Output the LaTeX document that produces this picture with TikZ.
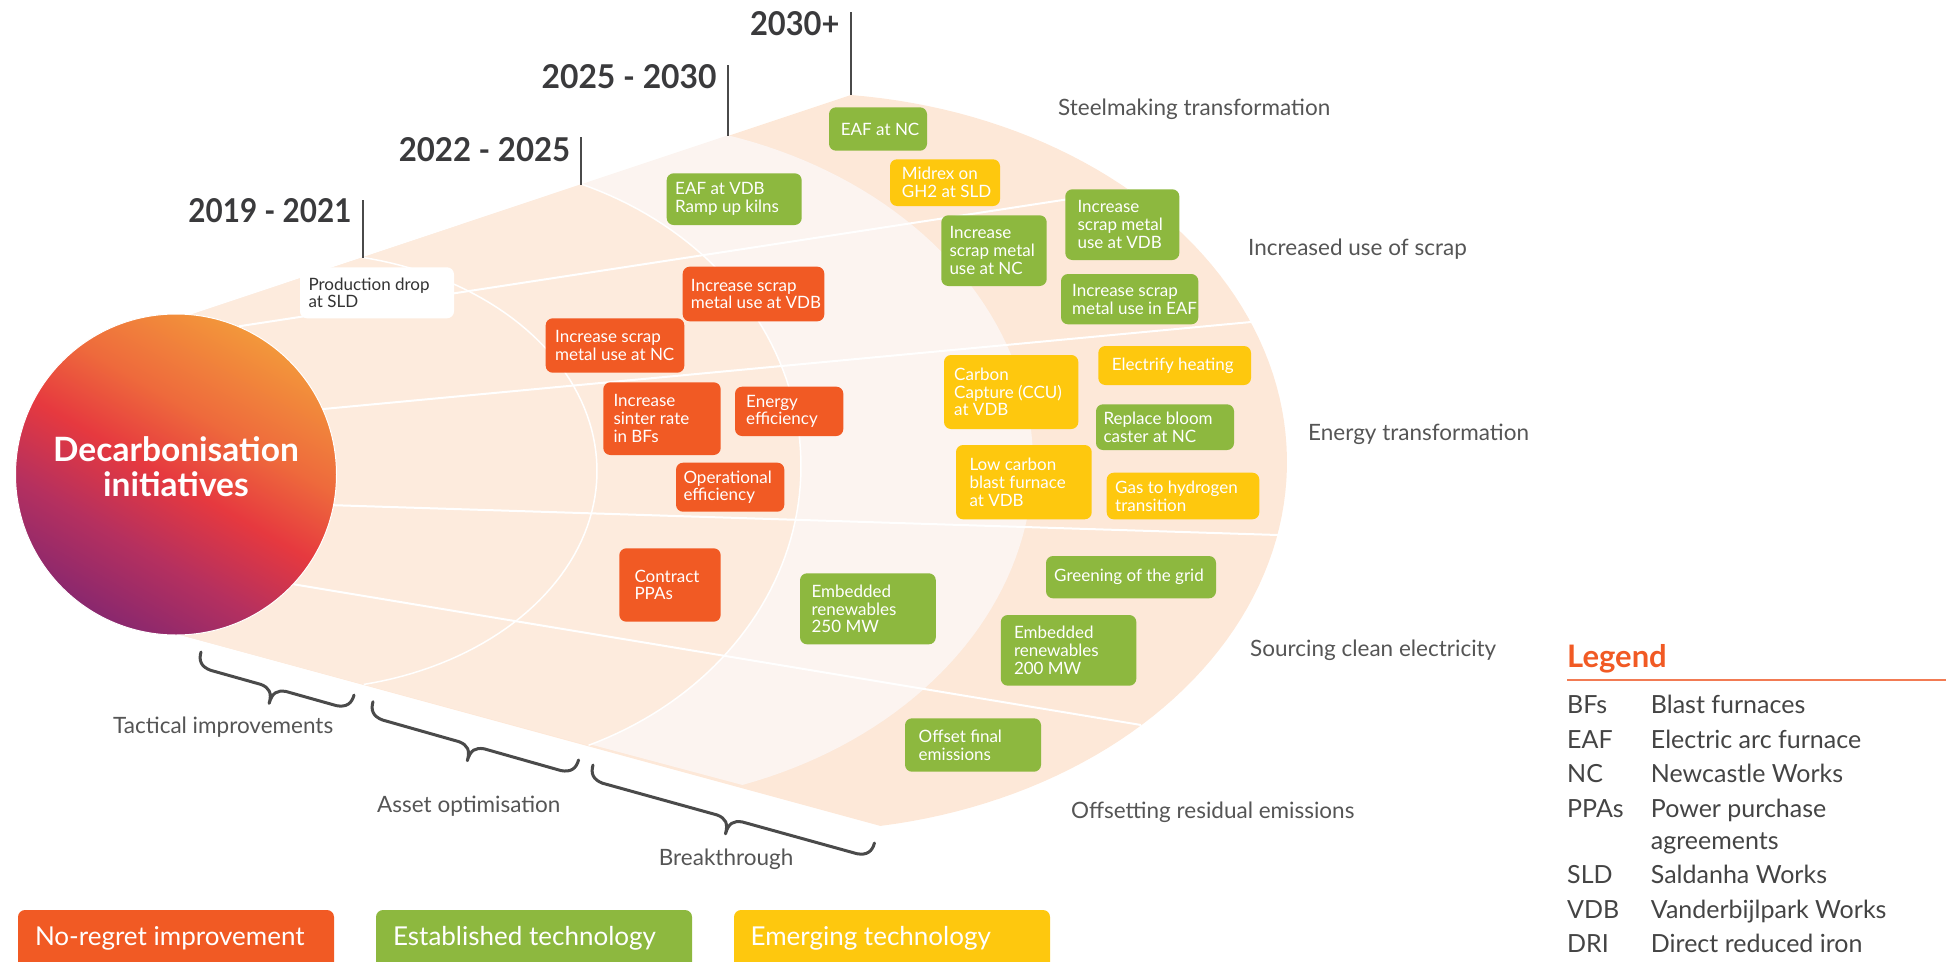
\documentclass[tikz,border=0pt]{standalone}
\usepackage{fontspec}
\setmainfont{Lato}
\usetikzlibrary{calc}
\definecolor{cOrange}{HTML}{F15A24}
\definecolor{cGreen}{HTML}{8DB83F}
\definecolor{cYellow}{HTML}{FEC80E}
\definecolor{cPeach}{HTML}{FDE8D8}
\definecolor{cPeachIn}{HTML}{FDEBDD}
\definecolor{cLight}{HTML}{FCF4F0}
\definecolor{cYear}{HTML}{3A3A3C}
\definecolor{cLab}{HTML}{555555}
\definecolor{cLeg}{HTML}{444444}
\definecolor{cTick}{HTML}{4A4A4A}
\definecolor{cLegLine}{HTML}{F27B53}
\definecolor{cPur}{HTML}{86276F}
\definecolor{cMag}{HTML}{B5305F}
\definecolor{cRed}{HTML}{E6393F}
\definecolor{cOrR}{HTML}{EE6A3C}
\definecolor{cOra}{HTML}{F39A3B}
\definecolor{cBoxText}{HTML}{333333}
\pgfdeclarehorizontalshading{decarb}{100bp}{color(0bp)=(cPur); color(24bp)=(cPur); color(37bp)=(cMag); color(49bp)=(cRed); color(60bp)=(cOrR); color(76bp)=(cOra); color(100bp)=(cOra)}
\newcommand\boxfont{\fontsize{17}{17.8}\selectfont}
\newcommand\regfont{\fontsize{22.5}{26}\selectfont}
\newcommand\legfont{\fontsize{25}{30}\selectfont}
\newcommand\lgbfont{\fontsize{26}{30}\selectfont}
\newcommand\decfont{\fontsize{33.5}{35}\selectfont\bfseries}
\newcommand\ibx[9]{%
  \node[bxs, fill=#7, minimum width=#4pt, minimum height=#5pt] (#1) at (#2,#3) {};
  \node[bxt, text=#8, anchor=west] (#1t) at ([xshift=#6pt]#1.west) {#9};}
\newcommand\mybrace[4]{%
  \begin{scope}[shift={(#1,#2)}, rotate=-#3]
  \draw[brc] (0,0) .. controls (0,9) and (4,14) .. (14,15) -- ({#4/2-13},15) .. controls ({#4/2-4},16) and ({#4/2},20) .. ({#4/2},31) .. controls ({#4/2},20) and ({#4/2+4},16) .. ({#4/2+13},15) -- ({#4-14},15) .. controls ({#4-4},14) and (#4,9) .. (#4,0);
  \end{scope}}
\begin{document}
\begin{tikzpicture}[x=1pt,y=-1pt,
  bxs/.style={rounded corners=7pt, anchor=north west, inner sep=0pt, outer sep=0pt, draw=none},
  bxt/.style={align=left, inner sep=0pt, font=\boxfont},
  arcline/.style={draw=white, line width=1.5pt},
  spoke/.style={draw=white, line width=2pt},
  tick/.style={draw=cTick, line width=2pt},
  yr/.style={inner sep=0pt, text=cYear},
  reg/.style={anchor=base west, inner sep=0pt, text=cLab, font=\regfont},
  leg/.style={anchor=base west, inner sep=0pt, text=cLeg, font=\legfont},
  brc/.style={draw=cTick, line width=3pt, line cap=round, line join=round}]
\useasboundingbox (0,0) rectangle (1948,961);
\clip (0,0) rectangle (1948,961);

% fan regions (rings are elliptical arcs)
\fill[cPeach] (176,474) -- (190,315) -- plot[domain=-84:80.5, samples=90, variable=\t] ({800+487*cos(\t)},{462+369*sin(\t)}) -- (173,633) -- cycle;
\fill[cLight] (176,474) -- (190,315) -- plot[domain=-72.8:70.8, samples=80, variable=\t] ({600+433*cos(\t)},{462+342*sin(\t)}) -- (173,633) -- cycle;
\fill[cPeachIn] (176,474) -- (190,315) -- plot[domain=-68:66.75, samples=80, variable=\t] ({450+351*cos(\t)},{466+304*sin(\t)}) -- (173,633) -- cycle;

% white ring lines
\draw[arcline] plot[domain=-77.8:77.6, samples=80, variable=\t] ({300+297*cos(\t)},{471+218.5*sin(\t)});
\draw[arcline] plot[domain=-68:66.75, samples=80, variable=\t] ({450+351*cos(\t)},{466+304*sin(\t)});

% central circle
\node[circle, minimum size=321pt, inner sep=0pt, shade, shading=decarb, shading angle=60, draw=white, line width=1pt] (dec) at (176,474.5) {};
\node[align=center, text=white, font=\decfont, inner sep=0pt] (dect) at (176,467) {Decarbonisation\\initiatives};

% spokes
\coordinate (s1e) at (1128,190);
\coordinate (s2e) at (1251,322);
\coordinate (s3e) at (1278,535);
\coordinate (s4e) at (1141,725);
\draw[spoke] (dec.67.8) -- (s1e);
\draw[spoke] (dec.24.5) -- (s2e);
\draw[spoke] (dec.-11.1) -- (s3e);
\draw[spoke] (dec.-43.8) -- (s4e);

% year labels and ticks
\node[yr, anchor=base east] (y1) at (351.7,222) {\resizebox{163pt}{24pt}{\bfseries 2019 - 2021}};
\node[yr, anchor=base east] (y2) at (570.5,161) {\resizebox{171.5pt}{24pt}{\bfseries 2022 - 2025}};
\node[yr, anchor=base east] (y3) at (716.8,88.5) {\resizebox{175pt}{24pt}{\bfseries 2025 - 2030}};
\node[yr, anchor=base east] (y4) at (839.7,35.5) {\resizebox{89.5pt}{24pt}{\bfseries 2030+}};
\coordinate (t1a) at (362.7,200); \coordinate (t1b) at (362.7,257.5);
\coordinate (t2a) at (581,137);   \coordinate (t2b) at (581,184.9);
\coordinate (t3a) at (728,65);    \coordinate (t3b) at (728,135.9);
\coordinate (t4a) at (851,12);    \coordinate (t4b) at (851,95);
\draw[tick] (t1a) -- (t1b);
\draw[tick] (t2a) -- (t2b);
\draw[tick] (t3a) -- (t3b);
\draw[tick] (t4a) -- (t4b);

% boxes
\ibx{prod}{300}{267.3}{154}{51}{8.3}{white}{cBoxText}{Production drop\\at SLD}
\ibx{incnco}{545.7}{318.3}{138.6}{54.4}{9.3}{cOrange}{white}{Increase scrap\\metal use at NC}
\ibx{incvdbo}{682.7}{266.7}{141.6}{54.6}{8}{cOrange}{white}{Increase scrap\\metal use at VDB}
\ibx{sinter}{603.3}{382.3}{117.4}{72.7}{10}{cOrange}{white}{Increase\\sinter rate\\in BFs}
\ibx{energy}{735}{386.7}{108.3}{49.3}{11}{cOrange}{white}{Energy\\efficiency}
\ibx{oper}{676}{462.7}{108.3}{49}{7.3}{cOrange}{white}{Operational\\efficiency}
\ibx{ppa}{619.3}{548.3}{101.4}{73.4}{15}{cOrange}{white}{Contract\\PPAs}
\ibx{eafvdb}{666.7}{173.3}{135}{51.7}{8.3}{cGreen}{white}{EAF at VDB\\Ramp up kilns}
\ibx{eafnc}{829}{107.3}{98}{43.4}{11.7}{cGreen}{white}{EAF at NC}
\ibx{midrex}{890}{159.3}{110}{46.7}{11.7}{cYellow}{white}{Midrex on\\GH2 at SLD}
\ibx{incncg}{941.3}{215.3}{105.4}{70.7}{8}{cGreen}{white}{Increase\\scrap metal\\use at NC}
\ibx{incvdbg}{1065.3}{189.3}{114}{70.7}{12}{cGreen}{white}{Increase\\scrap metal\\use at VDB}
\ibx{inceaf}{1061}{274}{137.3}{50.3}{11}{cGreen}{white}{Increase scrap\\metal use in EAF}
\ibx{ccu}{944}{355}{134.3}{74}{10}{cYellow}{white}{Carbon\\Capture (CCU)\\at VDB}
\ibx{elec}{1098.3}{346}{152.7}{39}{13.3}{cYellow}{white}{Electrify heating}
\ibx{bloom}{1096}{404.3}{138}{45.7}{7.3}{cGreen}{white}{Replace bloom\\caster at NC}
\ibx{lowc}{956}{445}{135.7}{74.3}{13.3}{cYellow}{white}{Low carbon\\blast furnace\\at VDB}
\ibx{gas}{1106.7}{472.7}{152.6}{46.6}{8.3}{cYellow}{white}{Gas to hydrogen\\transition}
\ibx{grid}{1046}{556}{170}{42.3}{8}{cGreen}{white}{Greening of the grid}
\ibx{embA}{800}{573.3}{135.8}{71}{11.4}{cGreen}{white}{Embedded\\renewables\\250 MW}
\ibx{embB}{1000.8}{615}{135.5}{70.7}{13}{cGreen}{white}{Embedded\\renewables\\200 MW}
\ibx{offs}{905}{718.3}{136}{53.4}{13.5}{cGreen}{white}{Offset final\\emissions}

% region labels
\node[reg] (rsteel) at (1058,115) {Steelmaking transformation};
\node[reg] (rscrap) at (1248,255) {Increased use of scrap};
\node[reg] (renergy) at (1308,440) {Energy transformation};
\node[reg] (rsource) at (1250,656.7) {Sourcing clean electricity};
\node[reg] (roffset) at (1071,818) {Offsetting residual emissions};
\node[reg] (rtact) at (113,733) {Tactical improvements};
\node[reg] (rasset) at (377,812) {Asset optimisation};
\node[reg] (rbreak) at (658.7,865) {Breakthrough};

% braces
\mybrace{201}{652}{15.7}{159}
\mybrace{373}{701.7}{15.83}{213.7}
\mybrace{593}{765}{15.49}{292.1}

% legend
\node[anchor=base west, inner sep=0pt, text=cOrange, font=\fontsize{31}{34}\selectfont\bfseries] (legt) at (1567,667) {Legend};
\coordinate (ll1) at (1567,680); \coordinate (ll2) at (1946,680);
\draw[cLegLine, line width=2pt] (ll1) -- (ll2);
\node[leg] (la1) at (1567,713.5) {BFs};  \node[leg] (ld1) at (1650.7,713.5) {Blast furnaces};
\node[leg] (la2) at (1567,748) {EAF};    \node[leg] (ld2) at (1650.7,748) {Electric arc furnace};
\node[leg] (la3) at (1567,782.5) {NC};   \node[leg] (ld3) at (1650.7,782.5) {Newcastle Works};
\node[leg] (la4) at (1567,817) {PPAs};   \node[leg] (ld4) at (1650.7,817) {Power purchase};
\node[leg] (ld5) at (1650.7,849) {agreements};
\node[leg] (la6) at (1567,883.5) {SLD};  \node[leg] (ld6) at (1650.7,883.5) {Saldanha Works};
\node[leg] (la7) at (1567,918) {VDB};    \node[leg] (ld7) at (1650.7,918) {Vanderbijlpark Works};
\node[leg] (la8) at (1567,952) {DRI};    \node[leg] (ld8) at (1650.7,952) {Direct reduced iron};

% category boxes
\node[bxs, fill=cOrange, minimum width=316pt, minimum height=70pt] (lg1) at (18,910) {};
\node[bxs, fill=cGreen, minimum width=316pt, minimum height=70pt] (lg2) at (376,910) {};
\node[bxs, fill=cYellow, minimum width=316pt, minimum height=70pt] (lg3) at (734,910) {};
\node[anchor=base west, inner sep=0pt, text=white, font=\lgbfont] (lg1t) at (34.8,945.6) {No-regret improvement};
\node[anchor=base west, inner sep=0pt, text=white, font=\lgbfont] (lg2t) at (392.9,945.6) {Established technology};
\node[anchor=base west, inner sep=0pt, text=white, font=\lgbfont] (lg3t) at (750.4,945.6) {Emerging technology};
\end{tikzpicture}
\end{document}
